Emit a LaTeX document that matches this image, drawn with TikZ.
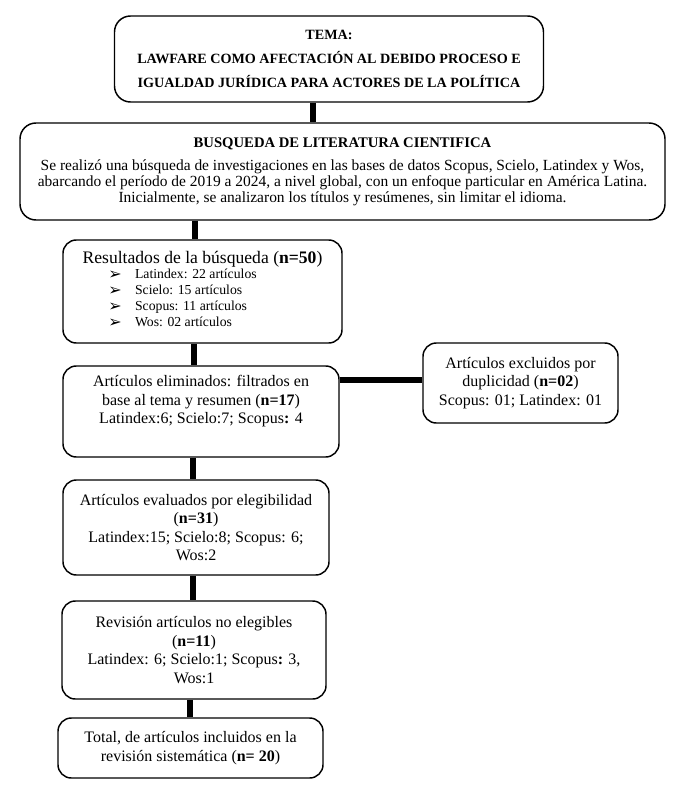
\documentclass[tikz,border=0pt]{standalone}
\usepackage{fontspec}
\setmainfont{Liberation Serif}
\newfontfamily\dejavu{DejaVu Sans}
\newcommand{\arw}{{\dejavu\fontsize{12}{10}\selectfont\raisebox{-0.5pt}{➢}}}
\begin{document}
\begin{tikzpicture}[x=0.75pt,y=-0.75pt,
  box/.style={draw, line width=1.1pt, rounded corners=10pt, align=center, inner sep=0pt, fill=white},
  conn/.style={line width=3.8pt},
  txt/.style={font=\fontsize{12}{13.8}\selectfont}]
\useasboundingbox (0,0) rectangle (680,791);
% x positions of the connectors
\coordinate (xa) at (313,0);
\coordinate (xb) at (195,0);
\coordinate (xc) at (194,0);
\coordinate (xd) at (193,0);
\coordinate (xe) at (190,0);
\coordinate (yh) at (0,380);

\node[box, rounded corners=12pt, minimum width=321.75pt, minimum height=64.5pt,
      font=\fontsize{10.6}{18}\selectfont\bfseries] (tema) at (329,59)
  {TEMA:\\LAWFARE COMO AFECTACIÓN AL DEBIDO PROCESO E\\IGUALDAD JURÍDICA PARA ACTORES DE LA POLÍTICA};

\node[box, rounded corners=12pt, minimum width=483.75pt, minimum height=72.75pt,
      font=\fontsize{11.6}{11.8}\selectfont] (busq) at (342.5,171.5)
  {{\fontsize{11}{12}\selectfont\bfseries BUSQUEDA DE LITERATURA CIENTIFICA}\\[6pt]
   Se realizó una búsqueda de investigaciones en las bases de datos Scopus, Scielo, Latindex y Wos,\\
   abarcando el período de 2019 a 2024, a nivel global, con un enfoque particular en América Latina.\\
   Inicialmente, se analizaron los títulos y resúmenes, sin limitar el idioma.};

\node[box, minimum width=209.25pt, minimum height=77.25pt] (res) at (202.5,291.5)
  {{\fontsize{13.2}{14}\selectfont Resultados de la búsqueda (\textbf{n=50})}\\[-1pt]
   {\fontsize{10.3}{12}\selectfont
   \begin{tabular}{@{}l@{\hspace{10pt}}l@{}}
   \arw & Latindex: 22 artículos\\
   \arw & Scielo: 15 artículos\\
   \arw & Scopus: 11 artículos\\
   \arw & Wos: 02 artículos
   \end{tabular}\hspace*{30pt}}};

\node[box, txt, minimum width=207pt, minimum height=68.25pt] (elim) at (201,411.5)
  {Artículos eliminados: filtrados en\\base al tema y resumen (\textbf{n=17})\\Latindex:6; Scielo:7; Scopus\textbf{:} 4\\[4pt]};

\node[box, txt, minimum width=146.25pt, minimum height=60pt] (excl) at (520.5,383)
  {Artículos excluidos por\\duplicidad (\textbf{n=02})\\Scopus: 01; Latindex: 01};

\node[box, txt, minimum width=199.5pt, minimum height=71.25pt] (eval) at (196,527.5)
  {Artículos evaluados por elegibilidad\\(\textbf{n=31})\\Latindex:15; Scielo:8; Scopus: 6;\\Wos:2};

\node[box, txt, minimum width=198pt, minimum height=73.5pt] (rev) at (194,650)
  {Revisión artículos no elegibles\\(\textbf{n=11})\\Latindex: 6; Scielo:1; Scopus\textbf{:} 3,\\Wos:1};

\node[box, txt, minimum width=198.75pt, minimum height=45pt] (total) at (190.5,748)
  {Total, de artículos incluidos en la\\revisión sistemática (\textbf{n= 20})};

\draw[conn] (tema.south -| xa) -- (busq.north -| xa);
\draw[conn] (busq.south -| xb) -- (res.north -| xb);
\draw[conn] (res.south -| xc) -- (elim.north -| xc);
\draw[conn] (elim.east |- yh) -- (excl.west |- yh);
\draw[conn] (elim.south -| xd) -- (eval.north -| xd);
\draw[conn] (eval.south -| xd) -- (rev.north -| xd);
\draw[conn] (rev.south -| xe) -- (total.north -| xe);
\end{tikzpicture}
\end{document}
